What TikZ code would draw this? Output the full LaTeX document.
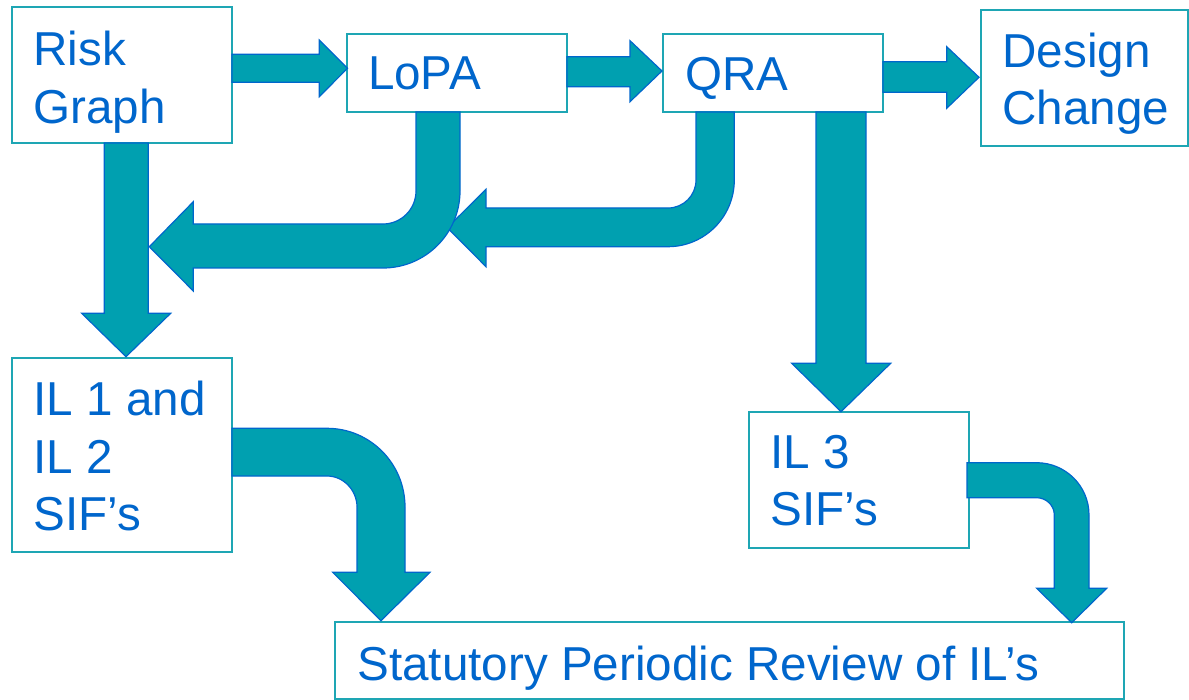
\documentclass[tikz,border=0pt]{standalone}
\usepackage{fontspec}
\setmainfont{Liberation Sans}
\definecolor{boxline}{RGB}{30,166,180}
\definecolor{txtblue}{RGB}{0,102,204}
\definecolor{arrfill}{RGB}{0,160,176}
\definecolor{arrline}{RGB}{0,102,204}
\tikzset{
  box/.style={draw=boxline, line width=1pt, fill=white, inner sep=0pt, outer sep=0pt, anchor=north west},
  txt/.style={text=txtblue, inner sep=0pt, outer sep=0pt, anchor=north west, align=left,
    font=\fontsize{23.8pt}{28.6pt}\selectfont},
  blockarrow/.style={fill=arrfill, draw=arrline, line width=0.6pt, line join=miter}
}
\begin{document}
\begin{tikzpicture}[x=0.5pt,y=-0.5pt]
\useasboundingbox (0,0) rectangle (1189,700);
% boxes
\node[box, minimum width=110pt, minimum height=68pt] (risk) at (12,7) {};
\node[box, minimum width=110pt, minimum height=39pt] (lopa) at (347,34) {};
\node[box, minimum width=110pt, minimum height=39pt] (qra) at (663,34) {};
\node[box, minimum width=103.5pt, minimum height=68pt] (design) at (981,10) {};
\node[box, minimum width=110pt, minimum height=97pt] (ilone) at (12,358) {};
\node[box, minimum width=110pt, minimum height=68pt] (ilthree) at (749,412) {};
\node[box, minimum width=394.5pt, minimum height=38.5pt] (review) at (335,622) {};
% texts
\node[txt] (risk-t) at (33.5,31.5) {Risk\\Graph};
\node[txt] (lopa-t) at (368,56.5) {LoPA};
\node[txt] (qra-t) at (685,57) {QRA};
\node[txt] (design-t) at (1002.5,33) {Design\\Change};
\node[txt] (ilone-t) at (33.5,381.5) {IL 1 and\\IL 2\\SIF’s};
\node[txt] (ilthree-t) at (770.5,435) {IL 3\\SIF’s};
\node[txt] (review-t) at (357.5,646) {Statutory Periodic Review of IL’s};
% straight arrows
\draw[blockarrow] (232,54.3) -- (319.3,54.3) -- (319.3,40) -- (347.5,68.3) -- (319.3,96.7) -- (319.3,82.3) -- (232,82.3) -- cycle;
\draw[blockarrow] (567,56.7) -- (630,56.7) -- (630,40.7) -- (662,71) -- (630,101.7) -- (630,86.7) -- (567,86.7) -- cycle;
\draw[blockarrow] (883,61.7) -- (946.7,61.7) -- (946.7,46.7) -- (979,77.3) -- (946.7,108.3) -- (946.7,92.3) -- (883,92.3) -- cycle;
\draw[blockarrow] (104.3,143) -- (104.3,313.3) -- (81.7,313.3) -- (126,356.7) -- (170.7,313.3) -- (148.3,313.3) -- (148.3,143) -- cycle;
\draw[blockarrow] (816,112) -- (816,363.3) -- (791.7,363.3) -- (841,411.7) -- (890.7,363.3) -- (866,363.3) -- (866,112) -- cycle;
% bent arrows
\draw[blockarrow] (696,112) -- (696,180) .. controls (696,195.5) and (683.5,208) .. (668,208)
  -- (486,208) -- (486,189.3) -- (447.3,227.7) -- (486,266.7) -- (486,246.7) -- (668,246.7)
  .. controls (704.6,246.7) and (734.3,216.8) .. (734.3,180) -- (734.3,112) -- cycle;
\draw[blockarrow] (416,112) -- (416,191) .. controls (416,209.2) and (401.2,224) .. (383,224)
  -- (193.3,224) -- (193.3,201.7) -- (149.3,246.7) -- (193.3,291) -- (193.3,268) -- (383,268)
  .. controls (425.5,268) and (460,233.5) .. (460,191) -- (460,112) -- cycle;
\draw[blockarrow] (232,428.3) -- (327,428.3) .. controls (370.1,428.3) and (405,463.5) .. (405,507)
  -- (405,572.3) -- (430,572.3) -- (381,620.7) -- (332.7,572.3) -- (357,572.3) -- (357,507)
  .. controls (357,490.4) and (343.6,476) .. (327,476) -- (232,476) -- cycle;
\draw[blockarrow] (967,462.7) -- (1036.5,462.7) .. controls (1065.5,462.7) and (1089,486) .. (1089,515)
  -- (1089,588.3) -- (1106.7,588.3) -- (1071.7,622.7) -- (1036.7,588.3) -- (1054.3,588.3) -- (1054.3,515)
  .. controls (1054.3,505.3) and (1046.2,497.7) .. (1036.5,497.7) -- (967,497.7) -- cycle;
\end{tikzpicture}
\end{document}
